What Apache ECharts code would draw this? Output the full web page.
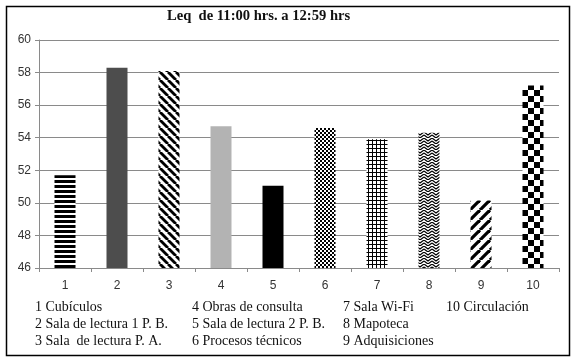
<!DOCTYPE html>
<html>
<head>
<meta charset="utf-8">
<script src="https://cdn.jsdelivr.net/npm/echarts@6/dist/echarts.min.js"></script>
<style>
  html, body { margin: 0; padding: 0; background: #fff; }
  #chart { width: 578px; height: 359px; }
</style>
</head>
<body>
<div id="chart"></div>
<script>
const categories = ["1", "2", "3", "4", "5", "6", "7", "8", "9", "10"]
const leqValues = [51.7, 58.3, 58.1, 54.7, 51.05, 54.6, 53.9, 54.3, 50.15, 57.2]
const yTicks = { min: 46, max: 60, interval: 2 }
const titleText = "Leq  de 11:00 hrs. a 12:59 hrs"
const legendColumns = [
  ["1 Cubículos", "2 Sala de lectura 1 P. B.", "3 Sala  de lectura P. A."],
  ["4 Obras de consulta", "5 Sala de lectura 2 P. B.", "6 Procesos técnicos"],
  ["7 Sala Wi-Fi", "8 Mapoteca", "9 Adquisiciones"],
  ["10 Circulación"],
]
const barFills = ["hstripe", "#4d4d4d", "backslash", "#b3b3b3", "#000000", "smallcheck", "grid", "zigzag", "slash", "bigcheck"]

function makePattern(kind) {
  const c = document.createElement("canvas")
  const ctx = c.getContext("2d")
  if (kind === "hstripe") {
    c.width = 4; c.height = 5
    ctx.fillStyle = "#fff"; ctx.fillRect(0, 0, 4, 5)
    ctx.fillStyle = "#000"; ctx.fillRect(0, 0, 4, 3)
  } else if (kind === "backslash" || kind === "slash") {
    const s = kind === "slash" ? 10 : 8
    c.width = s; c.height = s
    ctx.fillStyle = "#fff"; ctx.fillRect(0, 0, s, s)
    ctx.strokeStyle = "#000"; ctx.lineWidth = kind === "slash" ? 3.2 : 2.8
    for (let k = -1; k <= 1; k++) {
      ctx.beginPath()
      if (kind === "slash") {
        ctx.moveTo(k * s, s); ctx.lineTo(k * s + s, 0)
      } else {
        ctx.moveTo(k * s, 0); ctx.lineTo(k * s + s, s)
      }
      ctx.stroke()
    }
  } else if (kind === "smallcheck") {
    c.width = 4; c.height = 4
    ctx.fillStyle = "#fff"; ctx.fillRect(0, 0, 4, 4)
    ctx.fillStyle = "#000"; ctx.fillRect(0, 0, 2, 2); ctx.fillRect(2, 2, 2, 2)
  } else if (kind === "bigcheck") {
    c.width = 12; c.height = 12
    ctx.fillStyle = "#fff"; ctx.fillRect(0, 0, 12, 12)
    ctx.fillStyle = "#000"; ctx.fillRect(0, 0, 6, 6); ctx.fillRect(6, 6, 6, 6)
  } else if (kind === "grid") {
    c.width = 4; c.height = 4
    ctx.fillStyle = "#fff"; ctx.fillRect(0, 0, 4, 4)
    ctx.fillStyle = "#000"; ctx.fillRect(0, 0, 4, 1); ctx.fillRect(0, 0, 1, 4)
  } else if (kind === "zigzag") {
    c.width = 8; c.height = 6
    ctx.fillStyle = "#fff"; ctx.fillRect(0, 0, 8, 6)
    ctx.strokeStyle = "#000"; ctx.lineWidth = 1.2
    ctx.beginPath()
    ctx.moveTo(0, 0); ctx.lineTo(4, 3); ctx.lineTo(8, 0)
    ctx.moveTo(0, 3); ctx.lineTo(4, 6); ctx.lineTo(8, 3)
    ctx.stroke()
  }
  return { image: c, repeat: "repeat" }
}

const chart = echarts.init(document.getElementById("chart"), null, { renderer: "canvas" })

const legendX = [35, 192, 343, 446]
const legendY = [308, 325, 342]
const legendGraphics = []
legendColumns.forEach((col, ci) => {
  col.forEach((label, ri) => {
    legendGraphics.push({
      type: "text",
      left: legendX[ci],
      top: legendY[ri] - 8,
      style: { text: label, font: "14px 'Liberation Serif'", fill: "#111" },
    })
  })
})

chart.setOption({
  backgroundColor: "#fff",
  animation: false,
  title: {
    text: titleText,
    left: 167,
    top: 9,
    padding: 0,
    textStyle: { fontFamily: "Liberation Serif", fontWeight: "bold", fontSize: 14.6, color: "#111" },
  },
  grid: { left: 39, right: 19, top: 40, bottom: 91 },
  xAxis: {
    type: "category",
    data: categories,
    boundaryGap: true,
    axisLine: { lineStyle: { color: "#8a8a8a", width: 1 } },
    axisTick: { show: true, length: 4, lineStyle: { color: "#8a8a8a" } },
    axisLabel: { color: "#333", fontFamily: "Liberation Sans", fontSize: 12, margin: 12 },
  },
  yAxis: {
    type: "value",
    min: yTicks.min,
    max: yTicks.max,
    interval: yTicks.interval,
    axisLine: { show: true, lineStyle: { color: "#8a8a8a", width: 1 } },
    axisTick: { show: true, length: 4, lineStyle: { color: "#8a8a8a" } },
    axisLabel: { color: "#333", fontFamily: "Liberation Sans", fontSize: 12, margin: 8 },
    splitLine: { lineStyle: { color: "#8a8a8a", width: 1 } },
  },
  series: [
    {
      type: "bar",
      barWidth: 21,
      data: leqValues.map((v, i) => ({
        value: v,
        itemStyle: { color: barFills[i].startsWith("#") ? barFills[i] : makePattern(barFills[i]) },
      })),
    },
  ],
  graphic: [
    {
      type: "rect",
      left: 4,
      top: 4,
      shape: { width: 563, height: 349 },
      style: { fill: null, stroke: "#000", lineWidth: 1.5 },
      silent: true,
    },
    ...legendGraphics,
  ],
})
</script>
</body>
</html>
